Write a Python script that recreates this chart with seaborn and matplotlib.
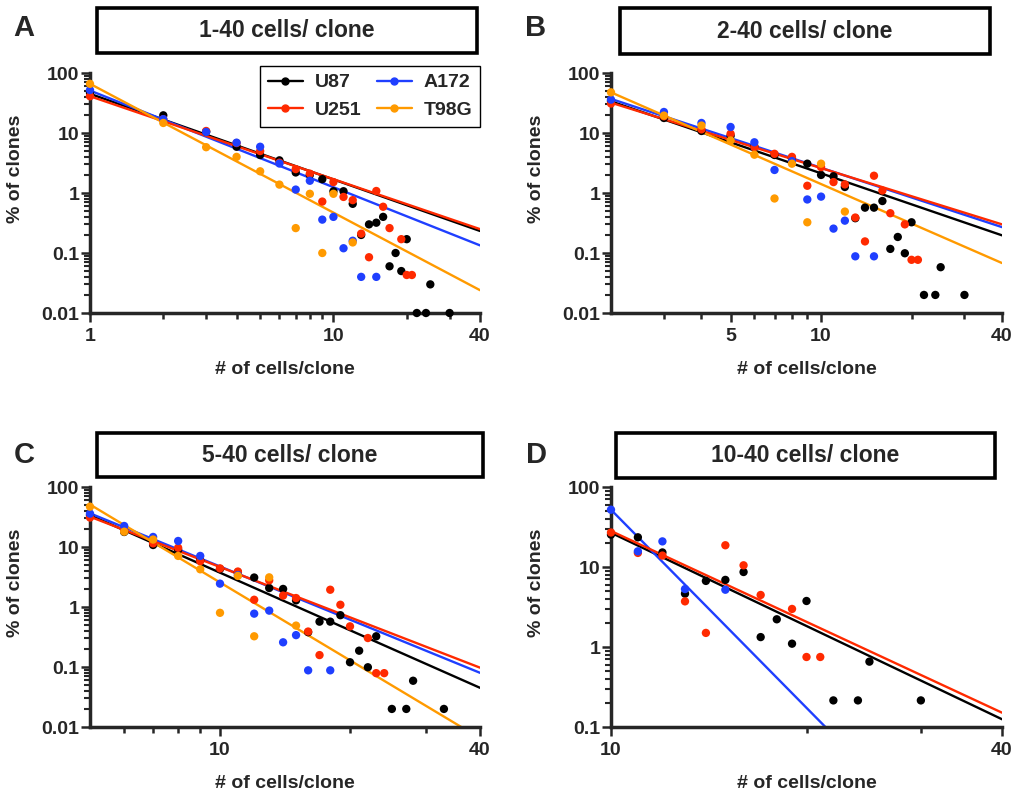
import matplotlib
matplotlib.use("Agg")
import numpy as np
import pandas as pd
import matplotlib.pyplot as plt
from matplotlib.lines import Line2D
from matplotlib.patches import Rectangle
from matplotlib.ticker import FixedLocator, FixedFormatter, NullFormatter
import seaborn as sns

# --- cell lines / colours ---
LINES = ["U87", "U251", "A172", "T98G"]
COLORS = {"U87": "#000000", "U251": "#ff2a00", "A172": "#1f3fff", "T98G": "#ff9a00"}

# --- panel A: 1-40 cells/ clone ---
a_x_u87 = [1, 2, 3, 4, 5, 6, 7, 8, 9, 10, 11, 12, 13, 14, 15, 16, 17, 18, 19, 20, 22, 24, 25, 30]
a_y_u87 = [47, 19.7, 10.5, 5.9, 4.3, 3.5, 2.2, 2.0, 1.7, 1.07, 1.07, 0.66, 0.2, 0.30, 0.32, 0.40,
           0.06, 0.10, 0.05, 0.17, 0.01, 0.01, 0.03, 0.01]
a_x_u251 = [1, 2, 3, 4, 5, 6, 7, 8, 9, 10, 11, 12, 13, 14, 15, 16, 17, 19, 20, 21]
a_y_u251 = [41, 17, 10.8, 6.8, 5.0, 3.2, 2.5, 2.1, 0.72, 1.52, 0.86, 0.76, 0.21, 0.085, 1.08, 0.59,
            0.26, 0.17, 0.043, 0.043]
a_x_a172 = [1, 2, 3, 4, 5, 6, 7, 8, 9, 10, 11, 12, 13, 15]
a_y_a172 = [52, 17, 10.4, 6.9, 5.9, 3.1, 1.14, 1.6, 0.36, 0.40, 0.12, 0.16, 0.04, 0.04]
a_x_t98g = [1, 2, 3, 4, 5, 6, 7, 8, 9, 10, 12]
a_y_t98g = [66, 14.7, 5.8, 4.0, 2.3, 1.38, 0.26, 0.97, 0.10, 0.97, 0.15]
a_fit_start = [45, 41, 51, 66]      # fitted value at x = 1 (U87, U251, A172, T98G)
a_fit_end = [0.233, 0.25, 0.134, 0.024]  # fitted value at x = 40

# --- panel B: 2-40 cells/ clone ---
b_x_u87 = [2, 3, 4, 5, 6, 7, 8, 9, 10, 11, 12, 13, 14, 15, 16, 17, 18, 19, 20, 22, 24, 25, 30]
b_y_u87 = [34, 17.8, 10.8, 9.0, 6.0, 4.3, 3.8, 3.08, 2.0, 1.9, 1.26, 0.38, 0.57, 0.57, 0.735,
           0.117, 0.185, 0.099, 0.325, 0.02, 0.02, 0.058, 0.02]
b_x_u251 = [2, 3, 4, 5, 6, 7, 8, 9, 10, 11, 12, 13, 14, 15, 16, 17, 19, 20, 21]
b_y_u251 = [31, 19, 11.5, 9.7, 5.8, 4.5, 4.0, 1.32, 2.7, 1.52, 1.39, 0.39, 0.156, 1.94, 1.1, 0.46,
            0.30, 0.077, 0.077]
b_x_a172 = [2, 3, 4, 5, 6, 7, 8, 9, 10, 11, 12, 13, 15]
b_y_a172 = [36, 22.4, 14.7, 12.6, 7.0, 2.42, 3.4, 0.78, 0.87, 0.255, 0.346, 0.088, 0.088]
b_x_t98g = [2, 3, 4, 5, 6, 7, 8, 9, 10, 12]
b_y_t98g = [47.6, 19.5, 13.3, 7.5, 4.35, 0.81, 3.08, 0.325, 3.08, 0.49]
b_fit_start = [33.7, 32, 37, 47.6]
b_fit_end = [0.197, 0.30, 0.27, 0.068]

# --- panel C: 5-40 cells/ clone ---
c_x_u87 = [5, 6, 7, 8, 9, 10, 11, 12, 13, 14, 15, 16, 17, 18, 19, 20, 21, 22, 23, 25, 27, 28, 33]
c_y_u87 = [34, 17.8, 10.8, 9.0, 6.0, 4.3, 3.8, 3.1, 2.07, 2.0, 1.29, 0.38, 0.57, 0.57, 0.73,
           0.12, 0.187, 0.099, 0.325, 0.02, 0.02, 0.059, 0.02]
c_x_u251 = [5, 6, 7, 8, 9, 10, 11, 12, 13, 14, 15, 16, 17, 18, 19, 20, 22, 23, 24]
c_y_u251 = [31, 19, 11.5, 9.7, 5.8, 4.4, 3.9, 1.32, 2.78, 1.55, 1.41, 0.39, 0.158, 1.94, 1.09,
            0.476, 0.304, 0.079, 0.079]
c_x_a172 = [5, 6, 7, 8, 9, 10, 11, 12, 13, 14, 15, 16, 18]
c_y_a172 = [36, 22.4, 14.7, 12.6, 7.1, 2.45, 3.4, 0.775, 0.87, 0.258, 0.34, 0.088, 0.088]
c_x_t98g = [5, 6, 7, 8, 9, 10, 11, 12, 13, 15]
c_y_t98g = [47, 18, 13.3, 7.1, 4.25, 0.8, 3.3, 0.325, 3.12, 0.49]
c_fit_start = [34, 32, 36.4, 51]
c_fit_end = [0.045, 0.0975, 0.08, 0.0065]

# --- panel D: 10-40 cells/ clone (no T98G) ---
d_x_u87 = [10, 11, 12, 13, 14, 15, 16, 17, 18, 19, 20, 22, 24, 25, 30]
d_y_u87 = [25.4, 23.5, 15.2, 4.64, 6.7, 6.9, 8.66, 1.33, 2.22, 1.1, 3.76, 0.215, 0.215, 0.656, 0.215]
d_x_u251 = [10, 11, 12, 13, 14, 15, 16, 17, 19, 20, 21]
d_y_u251 = [27, 15, 13.9, 3.72, 1.5, 18.7, 10.5, 4.47, 2.99, 0.75, 0.75]
d_x_a172 = [10, 11, 12, 13, 15]
d_y_a172 = [52, 15.7, 20.9, 5.3, 5.2]
d_fit_start = [26.8, 28.2, 52]
d_fit_end = [0.125, 0.151, 0.00058]

W, H = 1013, 797

sns.set_style("ticks")
plt.rcParams["font.family"] = ["Liberation Sans", "DejaVu Sans"]
plt.rcParams["font.weight"] = "bold"

fig = plt.figure(figsize=(W / 100, H / 100), dpi=100)


def px_axes(left, top, right, bottom):
    return fig.add_axes([left / W, 1 - bottom / H, (right - left) / W, (bottom - top) / H])


def title_box(left, top, right, bottom, text):
    fig.patches.append(Rectangle((left / W, 1 - bottom / H), (right - left) / W, (bottom - top) / H,
                                 transform=fig.transFigure, fill=False, ec="black", lw=2.6))
    fig.text((left + right) / 2 / W, 1 - (top + bottom) / 2 / H, text, ha="center", va="center",
             fontsize=16.5, fontweight="bold")


def draw_panel(ax, series, fit_x, fit_start, fit_end, xmajor, xlabels, xminor, ymin):
    names = list(series.keys())
    pts = pd.concat([pd.DataFrame({"x": series[n][0], "y": series[n][1], "line": n}) for n in names],
                    ignore_index=True)
    fits = pd.concat([pd.DataFrame({"x": fit_x, "y": [s, e], "line": n})
                      for n, s, e in zip(names, fit_start, fit_end)], ignore_index=True)

    # fitted power-law lines
    for n in ["U87", "A172", "U251", "T98G"]:
        if n in names:
            sns.lineplot(data=fits[fits["line"] == n], x="x", y="y", color=COLORS[n], lw=1.7,
                         estimator=None, legend=False, ax=ax)
    # data points
    sns.scatterplot(data=pts, x="x", y="y", hue="line", palette=COLORS, s=36, linewidth=0,
                    legend=False, clip_on=False, zorder=3, ax=ax)

    ax.set_xscale("log")
    ax.set_yscale("log")
    ax.set_xlim(fit_x[0], fit_x[1])
    ax.set_ylim(ymin, 100)

    ax.xaxis.set_major_locator(FixedLocator(xmajor))
    ax.xaxis.set_major_formatter(FixedFormatter(xlabels))
    ax.xaxis.set_minor_locator(FixedLocator(xminor))
    ax.xaxis.set_minor_formatter(NullFormatter())

    decades = [d for d in [0.01, 0.1, 1, 10, 100] if d >= ymin]
    ax.yaxis.set_major_locator(FixedLocator(decades))
    ax.yaxis.set_major_formatter(FixedFormatter([f"{d:g}" for d in decades]))
    ax.yaxis.set_minor_locator(FixedLocator([d * k for d in decades[:-1] for k in range(2, 10)]))
    ax.yaxis.set_minor_formatter(NullFormatter())

    for side in ["top", "right"]:
        ax.spines[side].set_visible(False)
    for side in ["left", "bottom"]:
        ax.spines[side].set_linewidth(2.5)
    ax.tick_params(axis="x", which="major", length=6.5, width=1.8, pad=4, labelsize=14)
    ax.tick_params(axis="x", which="minor", length=4.5, width=1.8)
    ax.tick_params(axis="y", which="major", length=6.5, width=1.8, pad=1, labelsize=14)
    ax.tick_params(axis="y", which="minor", length=4, width=1.5)
    for lab in ax.get_xticklabels() + ax.get_yticklabels():
        lab.set_fontweight("bold")

    ax.set_xlabel("# of cells/clone", fontsize=14, fontweight="bold")
    ax.set_ylabel("% of clones", fontsize=14, fontweight="bold")
    ax.xaxis.set_label_coords(0.5, -0.235)
    ax.xaxis.label.set_va("center")
    ax.yaxis.set_label_coords(-0.19, 0.6)
    ax.yaxis.label.set_va("center")


ax_a = px_axes(90, 73, 480, 313)
draw_panel(ax_a, {"U87": (a_x_u87, a_y_u87), "U251": (a_x_u251, a_y_u251),
                  "A172": (a_x_a172, a_y_a172), "T98G": (a_x_t98g, a_y_t98g)},
           [1, 40], a_fit_start, a_fit_end, [1, 10, 40], ["1", "10", "40"],
           [2, 3, 4, 5, 6, 7, 8, 9, 20, 30], 0.01)

ax_b = px_axes(611, 73, 1002, 313)
draw_panel(ax_b, {"U87": (b_x_u87, b_y_u87), "U251": (b_x_u251, b_y_u251),
                  "A172": (b_x_a172, b_y_a172), "T98G": (b_x_t98g, b_y_t98g)},
           [2, 40], b_fit_start, b_fit_end, [5, 10, 40], ["5", "10", "40"],
           [3, 4, 6, 7, 8, 9, 20, 30], 0.01)

ax_c = px_axes(90, 487, 480, 727)
draw_panel(ax_c, {"U87": (c_x_u87, c_y_u87), "U251": (c_x_u251, c_y_u251),
                  "A172": (c_x_a172, c_y_a172), "T98G": (c_x_t98g, c_y_t98g)},
           [5, 40], c_fit_start, c_fit_end, [10, 40], ["10", "40"],
           [6, 7, 8, 9, 20, 30], 0.01)

ax_d = px_axes(611, 487, 1002, 727)
draw_panel(ax_d, {"U87": (d_x_u87, d_y_u87), "U251": (d_x_u251, d_y_u251),
                  "A172": (d_x_a172, d_y_a172)},
           [10, 40], d_fit_start, d_fit_end, [10, 40], ["10", "40"],
           [20, 30], 0.1)

# --- title boxes and panel letters ---
title_box(97, 8, 477, 53, "1-40 cells/ clone")
title_box(620, 8, 990, 54, "2-40 cells/ clone")
title_box(97, 433, 483, 477, "5-40 cells/ clone")
title_box(616, 433, 995, 478, "10-40 cells/ clone")
for letter, (px, py) in zip("ABCD", [(24, 28), (536, 28), (24, 455), (536, 455)]):
    fig.text(px / W, 1 - py / H, letter, ha="center", va="center", fontsize=21, fontweight="bold")

# --- legend (panel A) ---
handles = [Line2D([0], [0], color=COLORS[n], lw=1.7, marker="o", markersize=5) for n in LINES]
leg = ax_a.legend(handles, LINES, ncol=2, loc="upper right", bbox_to_anchor=(480 / W, 1 - 66 / H),
                  bbox_transform=fig.transFigure, borderaxespad=0, frameon=True, fancybox=False,
                  edgecolor="black", framealpha=1, handlelength=1.8, columnspacing=0.8,
                  labelspacing=0.5, handletextpad=0.6, borderpad=0.4,
                  prop={"size": 14, "weight": "bold"})
leg.get_frame().set_linewidth(1.0)

fig.savefig("out.png", dpi=100)
